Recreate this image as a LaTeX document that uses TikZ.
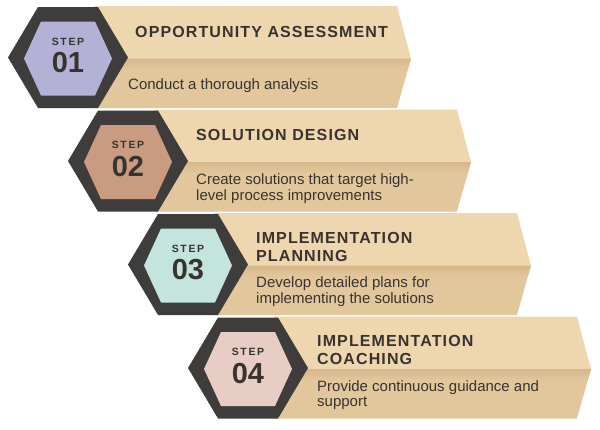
\documentclass[tikz,border=0pt]{standalone}
\usepackage{fontspec}
\setmainfont{Liberation Sans}
\newfontfamily\ttlfont[LetterSpace=7]{Liberation Sans}
\newfontfamily\stepfont[LetterSpace=16]{Liberation Sans}
\definecolor{bartop}{HTML}{EED6AF}
\definecolor{barbot}{HTML}{E3C79C}
\definecolor{barshade}{HTML}{D5B789}
\definecolor{hexdark}{HTML}{3E3D3B}
\definecolor{txt}{HTML}{38332F}
\definecolor{hexA}{HTML}{B3B1D5}
\definecolor{hexB}{HTML}{C99C82}
\definecolor{hexC}{HTML}{C3E5DE}
\definecolor{hexD}{HTML}{E7CDC4}
\tikzset{
  ttl/.style={anchor=west, inner sep=0pt, align=left, text=txt,
    font={\ttlfont\bfseries\fontsize{16}{18}\selectfont}},
  desc/.style={anchor=west, inner sep=0pt, align=left, text=txt,
    font={\fontsize{15}{15.5}\selectfont}},
  steplbl/.style={inner sep=0pt, text=txt,
    font={\stepfont\bfseries\fontsize{10.5}{12}\selectfont}},
  numlbl/.style={inner sep=0pt, text=txt,
    font={\bfseries\fontsize{29}{30}\selectfont}}
}
\begin{document}
\begin{tikzpicture}[x=1pt,y=-1pt]
\useasboundingbox (0,0) rectangle (600,429);
% bars
\foreach \k in {0,1,2,3}{
  \begin{scope}[shift={({68+60*\k},{57.5+103.5*\k})}]
    \fill[bartop] (26,-51.5) -- (329,-51.5) -- (343,1) -- (26,1) -- cycle;
    \fill[barbot] (26,1) -- (343,1) -- (329,50.5) -- (26,50.5) -- cycle;
    \begin{scope}
      \clip (26,1) -- (343,1) -- (329,50.5) -- (26,50.5) -- cycle;
      \shade[top color=barshade, bottom color=barbot] (26,1) rectangle (345,12);
    \end{scope}
  \end{scope}
}
% hexagons
\foreach \k/\col/\num in {0/hexA/01,1/hexB/02,2/hexC/03,3/hexD/04}{
  \begin{scope}[shift={({68+60*\k},{57.5+103.5*\k})}]
    \fill[hexdark] (-60,0) -- (-30,-50.5) -- (30,-50.5) -- (60,0) -- (30,50.5) -- (-30,50.5) -- cycle;
    \fill[\col] (-44,1) -- (-27,-36) -- (27,-36) -- (44,1) -- (27,38) -- (-27,38) -- cycle;
    \node[steplbl] (step\k) at (0,-16) {STEP};
    \node[numlbl] (num\k) at (0,5.5) {\num};
  \end{scope}
}
% texts
\node[ttl] (t1) at (135,31.5) {OPPORTUNITY ASSESSMENT};
\node[desc] (d1) at (128,85.5) {Conduct a thorough analysis};
\node[ttl] (t2) at (196,135) {SOLUTION DESIGN};
\node[desc] (d2) at (196,188.5) {Create solutions that target high-\\level process improvements};
\node[ttl] (t3) at (256,246.5) {IMPLEMENTATION\\PLANNING};
\node[desc] (d3) at (256,291.5) {Develop detailed plans for\\implementing the solutions};
\node[ttl] (t4) at (317,350) {IMPLEMENTATION\\COACHING};
\node[desc] (d4) at (317,395) {Provide continuous guidance and\\support};
\end{tikzpicture}
\end{document}
